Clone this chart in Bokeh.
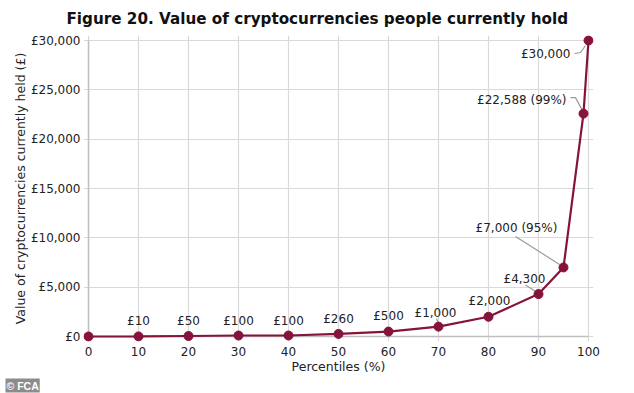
from bokeh.plotting import figure
from bokeh.models import ColumnDataSource, Title, Range1d, FixedTicker
from bokeh.core.properties import value
from bokeh.embed import file_html
from bokeh.resources import INLINE

# ---- data ----
percentiles = [0, 10, 20, 30, 40, 50, 60, 70, 80, 90, 95, 99, 100]
values = [0, 10, 50, 100, 100, 260, 500, 1000, 2000, 4300, 7000, 22588, 30000]
point_labels = ["", "£10", "£50", "£100", "£100", "£260", "£500", "£1,000",
                "£2,000", "£4,300", "£7,000 (95%)", "£22,588 (99%)", "£30,000"]
x_ticks = [0, 10, 20, 30, 40, 50, 60, 70, 80, 90, 100]
y_ticks = [0, 5000, 10000, 15000, 20000, 25000, 30000]
y_tick_labels = ["£0", "£5,000", "£10,000", "£15,000", "£20,000", "£25,000", "£30,000"]

# ---- styles / layout ----
MAROON = "#85133a"
FONT = "DejaVu Sans"
W, H = 634, 393
PAD = 5                                   # px of room around the data so markers show fully
X0, X1 = x_ticks[0], x_ticks[-1]
Y0, Y1 = y_ticks[0], y_ticks[-1]
DATA_W, DATA_H = 500, 296                 # px spanned by the data range
px_x = (X1 - X0) / DATA_W
px_y = (Y1 - Y0) / DATA_H
FL, FT = 88 - PAD, 40 - PAD
FR = W - (88 + DATA_W + PAD)
FB = H - (40 + DATA_H + PAD)

p = figure(width=W, height=H, output_backend="svg", toolbar_location=None,
           x_range=Range1d(X0 - PAD * px_x, X1 + PAD * px_x),
           y_range=Range1d(Y0 - PAD * px_y, Y1 + PAD * px_y),
           min_border_left=FL, min_border_right=FR, min_border_top=FT,
           min_border_bottom=FB)
p.outline_line_color = None
p.background_fill_color = "white"
p.border_fill_color = "white"

# axes
for ax in (p.xaxis[0], p.yaxis[0]):
    ax.axis_line_color = None
    ax.major_tick_line_color = None
    ax.minor_tick_line_color = None
    ax.major_tick_out = 0
    ax.major_tick_in = 0
    ax.minor_tick_out = 0
    ax.minor_tick_in = 0
    ax.major_label_text_font = FONT
    ax.major_label_text_font_size = "12px"
    ax.major_label_text_color = "#222222"
    ax.axis_label_text_font = FONT
    ax.axis_label_text_font_size = "12.5px"
    ax.axis_label_text_font_style = "normal"
    ax.axis_label_text_color = "#222222"

p.xaxis.ticker = FixedTicker(ticks=x_ticks)
p.yaxis.ticker = FixedTicker(ticks=y_ticks)
p.yaxis.major_label_overrides = {t: l for t, l in zip(y_ticks, y_tick_labels)}
p.xaxis.axis_label = "Percentiles (%)"
p.yaxis.axis_label = "Value of cryptocurrencies currently held (£)"
p.xaxis.major_label_standoff = 5
p.yaxis.major_label_standoff = 3
p.xaxis.axis_label_standoff = 0
p.yaxis.axis_label_standoff = 0

p.xgrid.grid_line_color = "#d9d9d9"
p.ygrid.grid_line_color = "#d9d9d9"
p.xgrid.grid_line_width = 1.2
p.ygrid.grid_line_width = 1.2

# axis lines along the data edges
p.line([X0, X1], [Y0, Y0], line_color="#bfbfbf", line_width=1.5)
p.line([X0, X0], [Y0, Y1], line_color="#bfbfbf", line_width=1.5)

# title
p.title.text = "Figure 20. Value of cryptocurrencies people currently hold"
p.title.text_font = FONT
p.title.text_font_size = "15.2px"
p.title.text_font_style = "bold"
p.title.align = "left"
p.title.offset = -17
p.title.standoff = 15
p.title.text_color = "#111111"

# ---- leader lines (pixel offsets converted to data units) ----
leaders = {
    7: [(-2, 8), (-0, 3)],
    9: [(-13, 9), (-2, 2)],
    10: [(-48, 31), (-4, 3)],
    11: [(-13, 16), (-8, 16), (-1, 3)],
    12: [(-14, -13), (-8, -12), (-3, -5)],
}
for i, offs in leaders.items():
    xs = [percentiles[i] + dx * px_x for dx, dy in offs]
    ys = [values[i] + dy * px_y for dx, dy in offs]
    p.line(xs, ys, line_color="#9a9a9a", line_width=1.2)

# ---- series ----
src = ColumnDataSource(dict(x=percentiles, y=values, label=point_labels))
p.line("x", "y", source=src, line_color=MAROON, line_width=2.2)
p.scatter("x", "y", source=src, size=9, fill_color=MAROON, line_color=MAROON)

# ---- value labels ----
xo = [0, 0, 0, 0, 0, 0, 0, -3, 1, -14, -47, -17, -18]
yo = [-8, -8, -8, -8, -8, -8, -9, -7, -9, -8, -32, -14, 13]
al = ["center"] * 10 + ["center", "right", "right"]
bl = ["bottom"] * 10 + ["bottom", "middle", "middle"]
lab = ColumnDataSource(dict(x=percentiles, y=values, label=point_labels,
                            xo=xo, yo=yo, al=al, bl=bl))
p.text("x", "y", text="label", source=lab, x_offset="xo", y_offset="yo",
       text_align="al", text_baseline="bl", text_font=value(FONT),
       text_font_size="12px", text_color="#222222")

# ---- FCA badge ----
badge = Title(text="© FCA", align="left", offset=-78, standoff=0,
              text_font="Liberation Sans", text_font_size="10.5px",
              text_font_style="bold", text_color="white",
              background_fill_color="#8c8c8c", padding=1)
p.add_layout(badge, "below")

open("out.html", "w").write(file_html(p, INLINE))
